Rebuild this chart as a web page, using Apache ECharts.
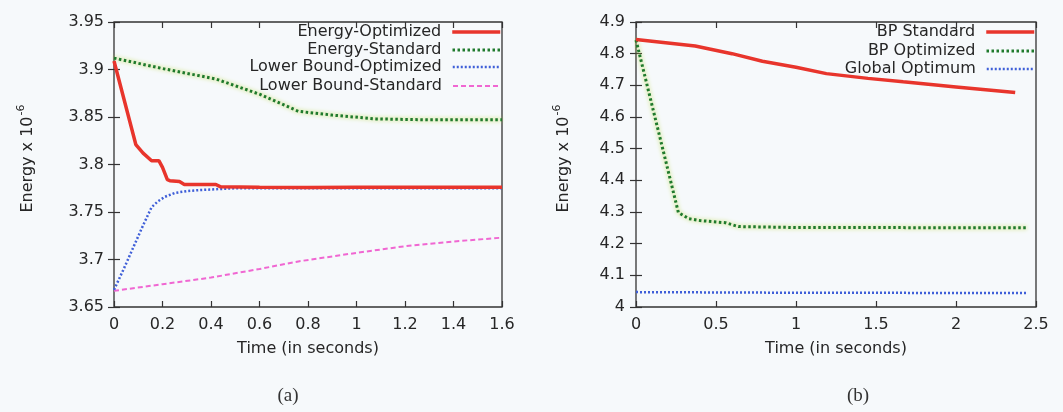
<!DOCTYPE html>
<html>
<head>
<meta charset="utf-8">
<script src="https://cdn.jsdelivr.net/npm/echarts@6/dist/echarts.min.js"></script>
<style>
html,body{margin:0;padding:0;background:#f6f9fb;}
#chart{width:1063px;height:412px;}
</style>
</head>
<body>
<div id="chart"></div>
<script>
// ---- Data ----
// Panel (a)
const energyOptT = [0, 0.09, 0.12, 0.155, 0.185, 0.2, 0.22, 0.23, 0.27, 0.29, 0.42, 0.44, 0.6, 0.8, 1.0, 1.2, 1.4, 1.6];
const energyOptV = [3.909, 3.821, 3.812, 3.804, 3.804, 3.797, 3.784, 3.783, 3.782, 3.779, 3.779, 3.7765, 3.776, 3.7758, 3.776, 3.776, 3.776, 3.776];
const energyStdT = [0, 0.2, 0.42, 0.6, 0.76, 0.9, 1.08, 1.3, 1.6];
const energyStdV = [3.912, 3.901, 3.890, 3.874, 3.856, 3.852, 3.848, 3.847, 3.847];
const lbOptT = [0, 0.04, 0.08, 0.12, 0.155, 0.18, 0.21, 0.25, 0.3, 0.35, 0.42, 0.5, 0.8, 1.2, 1.6];
const lbOptV = [3.668, 3.690, 3.713, 3.736, 3.755, 3.761, 3.766, 3.770, 3.772, 3.773, 3.774, 3.775, 3.775, 3.775, 3.775];
const lbStdT = [0, 0.2, 0.4, 0.6, 0.76, 1.0, 1.2, 1.4, 1.6];
const lbStdV = [3.667, 3.674, 3.681, 3.690, 3.698, 3.707, 3.714, 3.719, 3.723];
// Panel (b)
const bpStdT = [0, 0.37, 0.6, 0.79, 1.0, 1.19, 1.45, 1.67, 2.0, 2.37];
const bpStdV = [4.845, 4.824, 4.800, 4.776, 4.757, 4.737, 4.722, 4.711, 4.695, 4.677];
const bpOptT = [0, 0.265, 0.33, 0.4, 0.56, 0.64, 1.0, 1.5, 2.0, 2.44];
const bpOptV = [4.843, 4.298, 4.279, 4.273, 4.266, 4.254, 4.251, 4.251, 4.250, 4.250];
const globT = [0, 0.5, 1.0, 1.5, 2.0, 2.44];
const globV = [4.047, 4.046, 4.045, 4.045, 4.044, 4.044];

const namesA = ['Energy-Optimized', 'Energy-Standard', 'Lower Bound-Optimized', 'Lower Bound-Standard'];
const namesB = ['BP Standard', 'BP Optimized', 'Global Optimum'];
const axisA = {xMin: 0, xMax: 1.6, xStep: 0.2, yMin: 3.65, yMax: 3.95, yStep: 0.05};
const axisB = {xMin: 0, xMax: 2.5, xStep: 0.5, yMin: 4.0, yMax: 4.9, yStep: 0.1};
const xTitle = 'Time (in seconds)';
const yTitle = 'Energy x 10';
const yTitleSup = '-6';
const captions = ['(a)', '(b)'];

// ---- Build ----
const pairs = (t, v) => t.map((x, i) => [x, v[i]]);
const TXT = '#262626';
const FONT = 'DejaVu Sans';

function xAx(grid, a, gap) {
  return {
    type: 'value', gridIndex: grid, min: a.xMin, max: a.xMax, interval: a.xStep,
    name: xTitle, nameLocation: 'middle', nameGap: gap,
    nameTextStyle: {color: TXT, fontFamily: FONT, fontSize: 16},
    axisLine: {show: false}, splitLine: {show: false},
    axisTick: {inside: true, length: 6, lineStyle: {color: '#333', width: 1.2}},
    axisLabel: {color: TXT, fontFamily: FONT, fontSize: 16, margin: 10}
  };
}
function xMirror(grid, a) {
  return {
    type: 'value', gridIndex: grid, position: 'top', min: a.xMin, max: a.xMax, interval: a.xStep,
    axisLine: {show: false}, splitLine: {show: false}, axisLabel: {show: false},
    axisTick: {inside: true, length: 6, lineStyle: {color: '#333', width: 1.2}}
  };
}
function yAx(grid, a, gap, margin) {
  return {
    type: 'value', gridIndex: grid, min: a.yMin, max: a.yMax, interval: a.yStep,
    name: '{a|' + yTitle + '}{s|' + yTitleSup + '}', nameLocation: 'middle', nameGap: gap,
    nameTextStyle: {
      padding: [0, 0, 0, 12],
      rich: {
        a: {color: TXT, fontFamily: FONT, fontSize: 16, lineHeight: 20, verticalAlign: 'bottom'},
        s: {color: TXT, fontFamily: FONT, fontSize: 11, lineHeight: 11, verticalAlign: 'top', padding: [0, 0, 0, 1]}
      }
    },
    axisLine: {show: false}, splitLine: {show: false},
    axisTick: {inside: true, length: 6, lineStyle: {color: '#333', width: 1.2}},
    axisLabel: {color: TXT, fontFamily: FONT, fontSize: 16, margin: margin}
  };
}
function yMirror(grid, a) {
  return {
    type: 'value', gridIndex: grid, position: 'right', min: a.yMin, max: a.yMax, interval: a.yStep,
    axisLine: {show: false}, splitLine: {show: false}, axisLabel: {show: false},
    axisTick: {inside: true, length: 6, lineStyle: {color: '#333', width: 1.2}}
  };
}

const RED = {color: '#e8352c', width: 3.5, type: 'solid'};
const GREEN = {color: '#1f7a2c', width: 3, type: [2.5, 2.5], shadowColor: 'rgba(185,215,60,1)', shadowBlur: 4};
const BLUE = {color: '#3f5fd8', width: 2.5, type: [2, 2]};
const PINK = {color: '#f067d2', width: 2, type: [5, 3]};

function line(name, data, xi, yi, style) {
  return {
    type: 'line', name: name, data: data, xAxisIndex: xi, yAxisIndex: yi,
    showSymbol: false, symbol: 'none', smooth: false, silent: true,
    lineStyle: style, itemStyle: {color: style.color, opacity: 0}
  };
}

function legendItem(name, right, top, style) {
  return {
    data: [name], orient: 'vertical', right: right, top: top, padding: 0,
    align: 'right', itemWidth: 48, itemHeight: 20, selectedMode: false,
    itemStyle: {opacity: 0, borderWidth: 0},
    lineStyle: {width: style.width, color: style.color, type: style.type},
    textStyle: {color: TXT, fontFamily: FONT, fontSize: 16, padding: [0, 6, 0, 0]}
  };
}

const option = {
  animation: false,
  backgroundColor: '#f6f9fb',
  grid: [
    {left: 114, right: 561, top: 22, bottom: 105, show: true, borderColor: '#333', borderWidth: 1.3, backgroundColor: 'transparent'},
    {left: 636, right: 27, top: 22, bottom: 105, show: true, borderColor: '#333', borderWidth: 1.3, backgroundColor: 'transparent'}
  ],
  xAxis: [xAx(0, axisA, 34), xAx(1, axisB, 34), xMirror(0, axisA), xMirror(1, axisB)],
  yAxis: [yAx(0, axisA, 78, 10), yAx(1, axisB, 64, 11), yMirror(0, axisA), yMirror(1, axisB)],
  legend: [
    legendItem(namesA[0], 561, 24, RED),
    legendItem(namesA[1], 561, 42, GREEN),
    legendItem(namesA[2], 561, 59, BLUE),
    legendItem(namesA[3], 561, 78, PINK),
    legendItem(namesB[0], 27, 24, RED),
    legendItem(namesB[1], 27, 43, GREEN),
    legendItem(namesB[2], 27, 61, BLUE)
  ],
  series: [
    line(namesA[3], pairs(lbStdT, lbStdV), 0, 0, PINK),
    line(namesA[1], pairs(energyStdT, energyStdV), 0, 0, GREEN),
    line(namesA[2], pairs(lbOptT, lbOptV), 0, 0, BLUE),
    line(namesA[0], pairs(energyOptT, energyOptV), 0, 0, RED),
    line(namesB[2], pairs(globT, globV), 1, 1, BLUE),
    line(namesB[1], pairs(bpOptT, bpOptV), 1, 1, GREEN),
    line(namesB[0], pairs(bpStdT, bpStdV), 1, 1, RED)
  ],
  graphic: [
    {type: 'text', x: 288, y: 396, style: {text: captions[0], align: 'center', verticalAlign: 'middle', font: '19px "Liberation Serif"', fill: '#333'}},
    {type: 'text', x: 858, y: 396, style: {text: captions[1], align: 'center', verticalAlign: 'middle', font: '19px "Liberation Serif"', fill: '#333'}}
  ]
};

const chart = echarts.init(document.getElementById('chart'), null, {renderer: 'canvas'});
chart.setOption(option);
</script>
</body>
</html>
